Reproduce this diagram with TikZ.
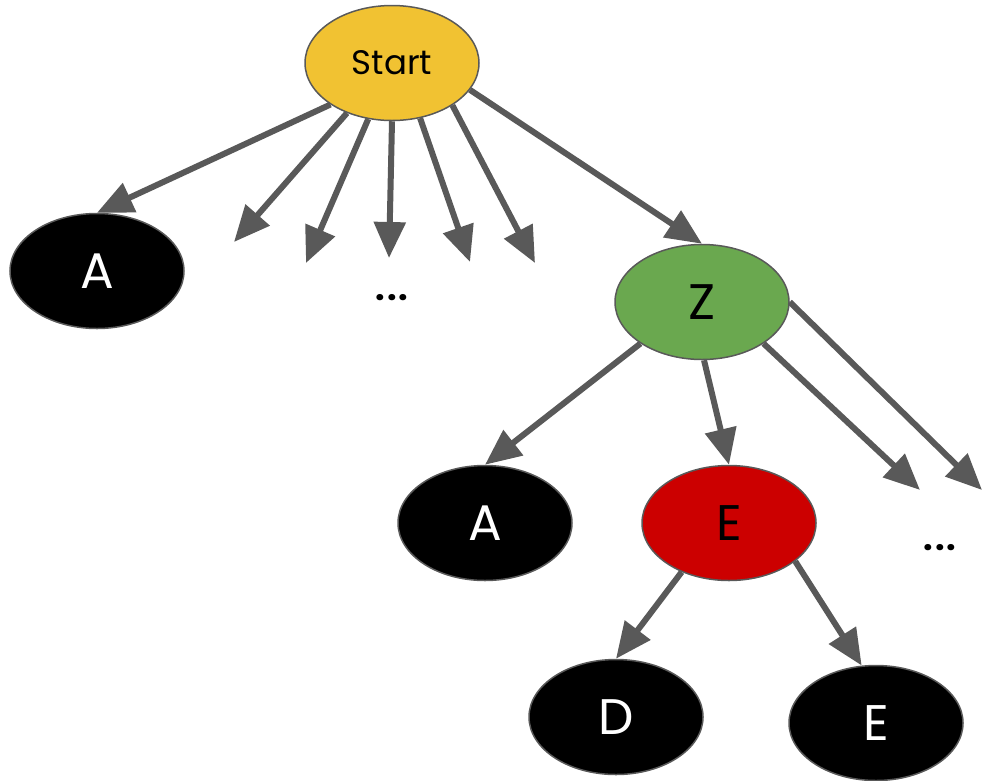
\documentclass[tikz,border=0pt]{standalone}
\usepackage{fontspec}
\setmainfont{Poppins}
\usetikzlibrary{arrows.meta,shapes.geometric}
\definecolor{edgegray}{HTML}{595959}
\definecolor{startyellow}{HTML}{F1C232}
\definecolor{zgreen}{HTML}{6AA84F}
\definecolor{ered}{HTML}{CC0000}
\tikzset{
  state/.style={ellipse, draw=edgegray, line width=1.5pt, minimum width=174pt, minimum height=115pt, inner sep=0pt},
  blackstate/.style={state, fill=black, text=white, font=\fontsize{50}{60}\selectfont},
  conn/.style={draw=edgegray, line width=6pt, -{Triangle[length=36pt,width=31pt]}, shorten >=0pt},
  dots/.style={font=\fontsize{34}{40}\selectfont\bfseries, inner sep=0pt},
}
\begin{document}
\begin{tikzpicture}[x=1pt,y=-1pt]
\useasboundingbox (0,0) rectangle (982,780);
\node[state, fill=startyellow, font=\fontsize{34}{40}\selectfont] (start) at (392,63) {Start};
\node[blackstate] (a1) at (97,271) {A};
\node[dots] (dots1) at (392,298) {.\kern2pt.\kern2pt.};
\node[state, fill=zgreen, font=\fontsize{50}{60}\selectfont] (z) at (702,302) {Z};
\node[blackstate] (a2) at (485,523) {A};
\node[state, fill=ered, font=\fontsize{50}{60}\selectfont] (e) at (729,523) {E};
\node[dots] (dots2) at (940,548) {.\kern2pt.\kern2pt.};
\node[blackstate] (d) at (616,717) {D};
\node[blackstate] (e2) at (876,723) {E};

\coordinate (t2) at (234,242);
\coordinate (t3) at (306,263);
\coordinate (t4) at (389,258);
\coordinate (t5) at (470,262);
\coordinate (t6) at (535,263);
\coordinate (tz1) at (920,490);
\coordinate (tz2) at (982,490);

\draw[conn] (start.214) -- (a1.north);
\draw[conn] (start.228) -- (t2);
\draw[conn] (start.247) -- (t3);
\draw[conn] (start.270) -- (t4);
\draw[conn] (start.297) -- (t5);
\draw[conn] (start.325) -- (t6);
\draw[conn] (start.341) -- (z.north);

\draw[conn] (z.214) -- (a2.north);
\draw[conn] (z.272) -- (e.north);
\draw[conn] (z.326) -- (tz1);
\draw[conn] (z.east) -- (tz2);

\draw[conn] (e.226) -- (d.north);
\draw[conn] (e.330) -- (e2.104);
\end{tikzpicture}
\end{document}
